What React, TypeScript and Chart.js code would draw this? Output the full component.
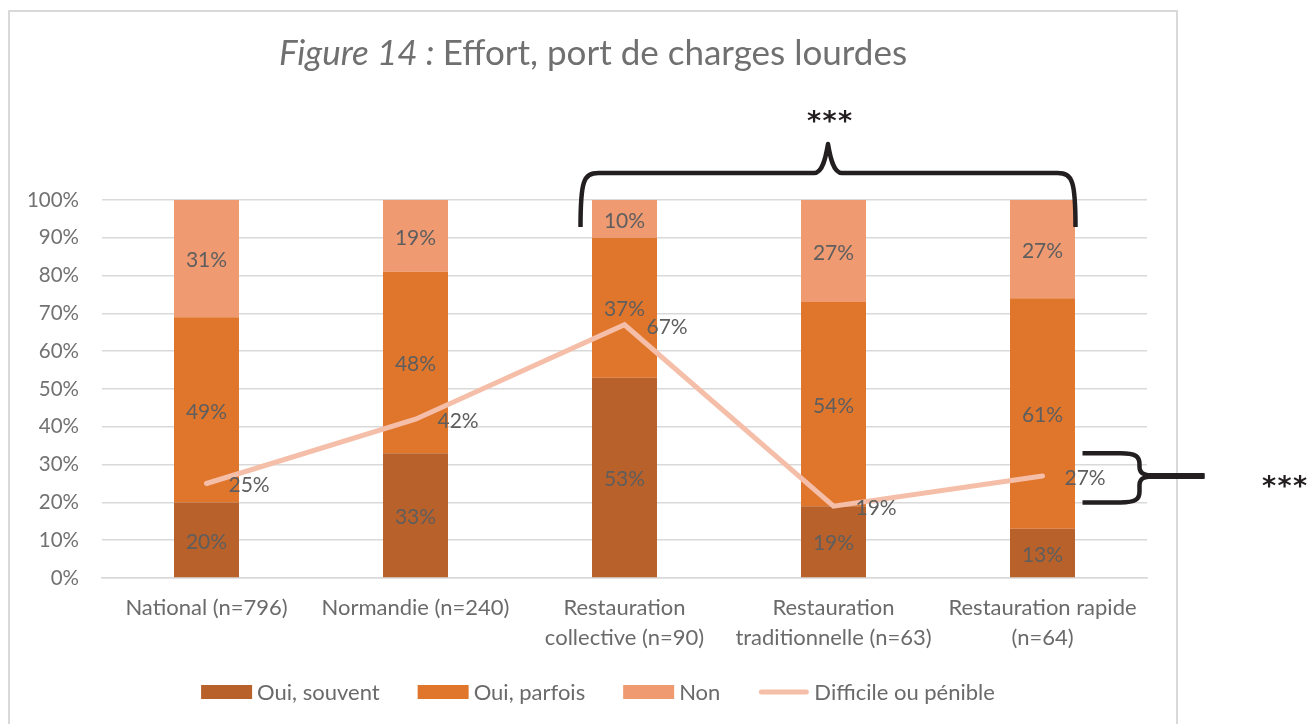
import React, { useEffect, useRef } from "react";
import { Chart, registerables } from "chart.js";

Chart.register(...registerables);

const categories: string[][] = [
  ["National (n=796)"],
  ["Normandie (n=240)"],
  ["Restauration", "collective (n=90)"],
  ["Restauration", "traditionnelle (n=63)"],
  ["Restauration rapide", "(n=64)"],
];
const seriesNames = ["Oui, souvent", "Oui, parfois", "Non", "Difficile ou pénible"];
const ouiSouvent = [20, 33, 53, 19, 13];
const ouiParfois = [49, 48, 37, 54, 61];
const non = [31, 19, 10, 27, 27];
const difficile = [25, 42, 67, 19, 27];
const yMin = 0;
const yMax = 100;
const yStep = 10;
const titleItalic = "Figure 14 : ";
const titleRest = "Effort, port de charges lourdes";
const significance = "***";

const FONT = "Lato";
const COLORS = ["#B9612A", "#E0762C", "#F09A72", "#F5BEA8"];

function drawStars(ctx: CanvasRenderingContext2D, text: string, cx: number, cy: number) {
  ctx.save();
  ctx.font = `bold 27px "DejaVu Sans"`;
  ctx.fillStyle = "#231F20";
  ctx.textAlign = "center";
  ctx.textBaseline = "alphabetic";
  const n = text.length;
  const step = 15.5;
  for (let i = 0; i < n; i++) {
    const x = cx + (i - (n - 1) / 2) * step;
    ctx.fillText(text[i], x, cy + 15);
  }
  ctx.restore();
}

export default function App() {
  const ref = useRef<HTMLCanvasElement | null>(null);

  useEffect(() => {
    const canvas = ref.current;
    if (!canvas) return;

    const decor = {
      id: "decor",
      beforeDraw(chart: any) {
        const ctx = chart.ctx;
        ctx.save();
        ctx.fillStyle = "#ffffff";
        ctx.fillRect(0, 0, chart.width, chart.height);
        ctx.strokeStyle = "#D9D9D9";
        ctx.lineWidth = 2;
        ctx.strokeRect(9, 11, 1168, 730);
        // title
        ctx.fillStyle = "#707070";
        ctx.textBaseline = "middle";
        const fItal = `italic 35px ${FONT}`;
        const fNorm = `35px ${FONT}`;
        ctx.font = fItal;
        const w1 = ctx.measureText(titleItalic).width;
        ctx.font = fNorm;
        const w2 = ctx.measureText(titleRest).width;
        const x0 = 593 - (w1 + w2) / 2;
        ctx.textAlign = "left";
        ctx.font = fItal;
        ctx.fillText(titleItalic, x0, 54);
        ctx.font = fNorm;
        ctx.fillText(titleRest, x0 + w1, 54);
        ctx.restore();
      },
      afterDatasetsDraw(chart: any) {
        const ctx = chart.ctx;
        ctx.save();
        ctx.font = `21px ${FONT}`;
        ctx.fillStyle = "#5E5E5E";
        ctx.textBaseline = "middle";
        for (let d = 0; d < 3; d++) {
          const meta = chart.getDatasetMeta(d);
          const vals = chart.data.datasets[d].data;
          meta.data.forEach((el: any, i: number) => {
            ctx.textAlign = "center";
            const cy = (Math.max(el.y, chart.chartArea.top) + el.base) / 2;
            ctx.fillText(vals[i] + "%", el.x, cy + 2);
          });
        }
        const lm = chart.getDatasetMeta(3);
        lm.data.forEach((pt: any, i: number) => {
          ctx.textAlign = "left";
          ctx.fillText(difficile[i] + "%", pt.x + 22, pt.y + 2);
        });
        ctx.restore();
      },
      afterDraw(chart: any) {
        const ctx = chart.ctx;
        const xs = chart.scales.x;
        const ys = chart.scales.y;
        ctx.save();
        // legend
        ctx.font = `22px ${FONT}`;
        ctx.textBaseline = "middle";
        const sw = 51;
        const gapT = 5;
        const gapI = 38;
        let total = 0;
        const widths = seriesNames.map((n) => ctx.measureText(n).width);
        widths.forEach((w, i) => {
          total += sw + gapT + w + (i < widths.length - 1 ? gapI : 0);
        });
        let lx = 598 - total / 2;
        const ly = 692;
        seriesNames.forEach((n, i) => {
          if (i < 3) {
            ctx.fillStyle = COLORS[i];
            ctx.fillRect(lx, ly - 7, sw, 14);
          } else {
            ctx.strokeStyle = COLORS[3];
            ctx.lineWidth = 5;
            ctx.lineCap = "round";
            ctx.beginPath();
            ctx.moveTo(lx + 3, ly);
            ctx.lineTo(lx + sw - 3, ly);
            ctx.stroke();
          }
          ctx.fillStyle = "#6A6A6A";
          ctx.textAlign = "left";
          ctx.fillText(n, lx + sw + gapT, ly + 1);
          lx += sw + gapT + widths[i] + gapI;
        });

        // top brace over categories 2..4
        ctx.strokeStyle = "#231F20";
        ctx.fillStyle = "#231F20";
        ctx.lineWidth = 4.5;
        ctx.lineJoin = "round";
        ctx.lineCap = "butt";
        const xL = xs.getPixelForValue(2) - 44;
        const xR = xs.getPixelForValue(4) + 33;
        const mid = (xL + xR) / 2;
        const yTop100 = ys.getPixelForValue(yMax);
        const yB = yTop100 + 27;
        const yH = yTop100 - 27;
        const yTip = yH - 29;
        ctx.beginPath();
        ctx.moveTo(xL, yB);
        ctx.bezierCurveTo(xL, yH + 8, xL + 3, yH, xL + 18, yH);
        ctx.lineTo(mid - 14, yH);
        ctx.bezierCurveTo(mid - 5, yH, mid - 2, yTip + 12, mid, yTip);
        ctx.bezierCurveTo(mid + 2, yTip + 12, mid + 5, yH, mid + 14, yH);
        ctx.lineTo(xR - 18, yH);
        ctx.bezierCurveTo(xR - 3, yH, xR, yH + 8, xR, yB);
        ctx.stroke();
        drawStars(ctx, significance, mid + 1.5, yTip - 29);

        // right brace around last line point
        const x0 = xs.getPixelForValue(4) + 40;
        const yT = ys.getPixelForValue(33);
        const yBo = ys.getPixelForValue(20);
        const yM = ys.getPixelForValue(difficile[4]);
        const xc = x0 + 57;
        ctx.beginPath();
        ctx.moveTo(x0, yT);
        ctx.lineTo(x0 + 38, yT);
        ctx.bezierCurveTo(xc - 4, yT, xc, yT + 3, xc, yT + 11);
        ctx.lineTo(xc, yM - 9);
        ctx.bezierCurveTo(xc, yM - 2, xc + 6, yM, xc + 18, yM);
        ctx.lineTo(x0 + 122, yM);
        ctx.moveTo(xc + 18, yM);
        ctx.bezierCurveTo(xc + 6, yM, xc, yM + 2, xc, yM + 9);
        ctx.lineTo(xc, yBo - 11);
        ctx.bezierCurveTo(xc, yBo - 3, xc - 4, yBo, x0 + 38, yBo);
        ctx.lineTo(x0, yBo);
        ctx.stroke();
        ctx.lineWidth = 6;
        ctx.beginPath();
        ctx.moveTo(xc + 8, yM);
        ctx.lineTo(x0 + 122, yM);
        ctx.stroke();
        drawStars(ctx, significance, x0 + 202, yM + 4);
        ctx.restore();
      },
    };

    const chart = new Chart(canvas, {
      type: "bar",
      data: {
        labels: categories,
        datasets: [
          { label: seriesNames[0], data: ouiSouvent, backgroundColor: COLORS[0], stack: "bars", order: 1 },
          { label: seriesNames[1], data: ouiParfois, backgroundColor: COLORS[1], stack: "bars", order: 1 },
          { label: seriesNames[2], data: non, backgroundColor: COLORS[2], stack: "bars", order: 1 },
          {
            type: "line",
            label: seriesNames[3],
            data: difficile,
            borderColor: COLORS[3],
            backgroundColor: COLORS[3],
            borderWidth: 5,
            pointRadius: 0,
            tension: 0,
            stack: "line",
            order: 0,
            borderCapStyle: "round",
          } as any,
        ],
      },
      options: {
        responsive: false,
        animation: false,
        devicePixelRatio: 1,
        layout: { padding: { left: 0, right: 160, top: 200, bottom: 0 } },
        datasets: {
          bar: { categoryPercentage: 1, barPercentage: 0.311 },
        },
        plugins: {
          legend: { display: false },
          title: { display: false },
          tooltip: { enabled: false },
        },
        scales: {
          x: {
            stacked: true,
            grid: { display: false, drawTicks: false },
            border: { display: true, color: "#D9D9D9", width: 1.5 },
            ticks: {
              color: "#6A6A6A",
              font: { family: FONT, size: 22, lineHeight: 1.36 },
              padding: 15,
              maxRotation: 0,
              autoSkip: false,
            },
            afterFit(scale: any) {
              scale.height = 146;
            },
          },
          y: {
            stacked: true,
            min: yMin,
            max: yMax,
            grid: { color: "#D9D9D9", lineWidth: 1.5, drawTicks: false },
            border: { display: false },
            ticks: {
              stepSize: yStep,
              color: "#727272",
              font: { family: FONT, size: 20.5 },
              padding: 23,
              callback: (v: any) => v + "%",
            },
            afterFit(scale: any) {
              scale.width = 102;
            },
          },
        },
      },
      plugins: [decor],
    });

    return () => chart.destroy();
  }, []);

  return (
    <div style={{ position: "absolute", left: 0, top: 0, width: 1307, height: 724 }}>
      <canvas ref={ref} width={1307} height={724} style={{ display: "block" }} />
    </div>
  );
}
